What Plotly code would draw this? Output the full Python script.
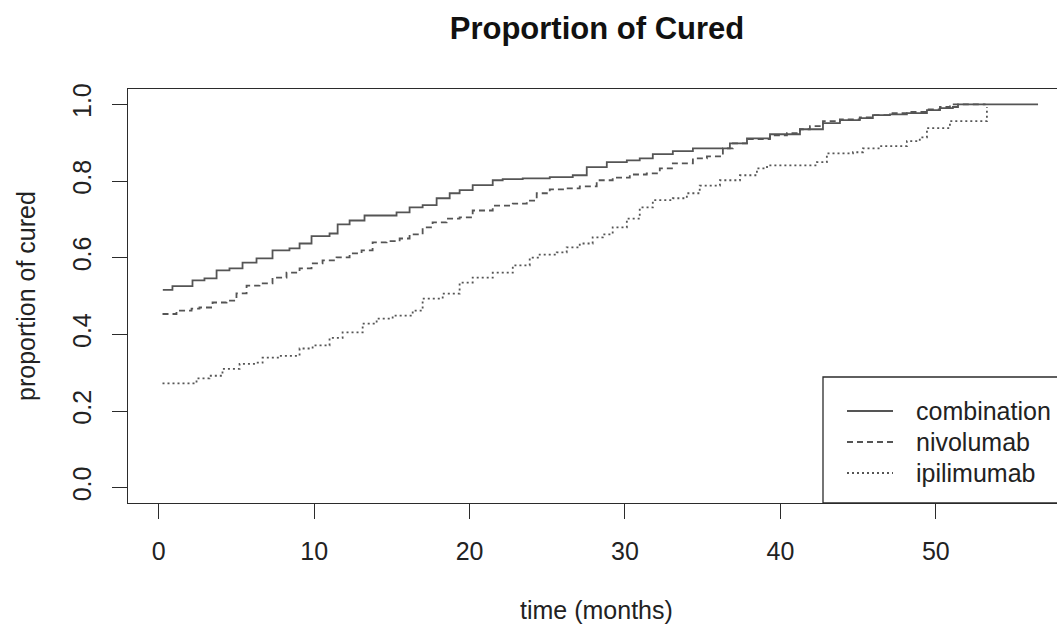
import plotly.graph_objects as go

# ---- data ----
comb_t = [0.26, 0.88, 2.17, 2.94, 3.72, 4.55, 5.39, 6.29, 7.32, 8.41, 9.06, 9.83, 10.99, 11.51,
          12.28, 13.24, 15.30, 16.14, 16.98, 17.88, 18.72, 19.36, 20.20, 21.49, 22.13, 23.42,
          25.16, 26.64, 27.54, 28.83, 30.12, 30.95, 31.79, 33.08, 34.37, 36.75, 37.85, 39.33,
          41.26, 42.74, 43.83, 45.11, 45.95, 47.05, 48.14, 49.43, 50.27, 51.10, 51.43, 56.58]
comb_v = [0.516, 0.526, 0.541, 0.546, 0.567, 0.572, 0.587, 0.598, 0.619, 0.624, 0.637, 0.656,
          0.663, 0.687, 0.697, 0.710, 0.718, 0.731, 0.737, 0.755, 0.768, 0.776, 0.789, 0.802,
          0.805, 0.807, 0.810, 0.815, 0.836, 0.849, 0.854, 0.859, 0.870, 0.878, 0.885, 0.898,
          0.911, 0.922, 0.935, 0.951, 0.959, 0.964, 0.972, 0.974, 0.977, 0.985, 0.990, 0.993,
          1.000, 1.000]

nivo_t = [0.24, 1.14, 2.11, 2.62, 3.46, 4.36, 5.00, 5.65, 6.48, 7.32, 8.22, 9.06, 9.83, 10.54,
          11.44, 12.28, 13.05, 13.76, 14.66, 15.50, 16.14, 16.98, 17.62, 18.52, 19.36, 20.20,
          21.49, 22.78, 23.68, 24.32, 25.16, 26.25, 27.09, 28.18, 29.21, 30.31, 31.40, 32.24,
          33.08, 34.37, 35.27, 36.30, 36.94, 37.85, 39.33, 40.42, 41.26, 41.90, 42.74, 43.83,
          45.11, 45.95, 47.05, 48.14, 49.43, 50.27, 50.91, 53.20]
nivo_v = [0.453, 0.462, 0.467, 0.470, 0.483, 0.488, 0.507, 0.527, 0.533, 0.548, 0.561, 0.572,
          0.585, 0.593, 0.601, 0.611, 0.619, 0.640, 0.643, 0.650, 0.661, 0.679, 0.692, 0.702,
          0.705, 0.723, 0.736, 0.741, 0.749, 0.768, 0.778, 0.781, 0.786, 0.802, 0.809, 0.817,
          0.820, 0.833, 0.846, 0.859, 0.864, 0.885, 0.898, 0.909, 0.919, 0.925, 0.935, 0.943,
          0.956, 0.961, 0.966, 0.972, 0.977, 0.980, 0.987, 0.993, 1.000, 1.000]

ipi_t = [0.24, 2.43, 3.26, 4.10, 5.20, 6.29, 6.68, 7.77, 9.06, 9.90, 10.99, 11.83, 13.12,
         14.02, 15.05, 16.34, 16.98, 18.27, 19.36, 20.20, 21.49, 22.78, 23.87, 24.51, 25.61,
         26.25, 27.09, 27.92, 28.57, 29.21, 30.12, 30.95, 31.79, 33.08, 33.98, 34.81, 36.11,
         37.40, 38.49, 39.14, 42.35, 42.99, 44.67, 45.31, 46.41, 48.14, 48.97, 49.43, 50.91,
         53.29]
ipi_v = [0.272, 0.285, 0.292, 0.310, 0.323, 0.326, 0.339, 0.344, 0.363, 0.371, 0.391, 0.405,
         0.428, 0.441, 0.449, 0.462, 0.493, 0.506, 0.535, 0.548, 0.561, 0.580, 0.600, 0.608,
         0.614, 0.627, 0.637, 0.653, 0.661, 0.679, 0.702, 0.731, 0.750, 0.755, 0.768, 0.788,
         0.802, 0.815, 0.833, 0.841, 0.849, 0.872, 0.875, 0.885, 0.891, 0.904, 0.914, 0.938,
         0.956, 0.993]

series_names = ["combination", "nivolumab", "ipilimumab"]
x_ticks = [0, 10, 20, 30, 40, 50]
y_ticks = [0.0, 0.2, 0.4, 0.6, 0.8, 1.0]
y_tick_text = ["0.0", "0.2", "0.4", "0.6", "0.8", "1.0"]

LINE_COL = "#555555"
AX_COL = "#2b2b2b"
FONT = "Liberation Sans, Arial, sans-serif"
FS = 25
dashes = ["solid", "6px,4px", "2px,3px"]

fig = go.Figure()
for t, v, name, d in zip([comb_t, nivo_t, ipi_t], [comb_v, nivo_v, ipi_v], series_names, dashes):
    fig.add_trace(go.Scatter(x=t, y=v, mode="lines", name=name, line_shape="hv",
                             line=dict(color=LINE_COL, width=1.8, dash=d), showlegend=False))

W, H = 1057, 629
L, R, T, B = 128, 0, 89, 126
pw, ph = W - L - R, H - T - B

def px(xp):
    return (xp - L) / pw

def py(yp):
    return (H - B - yp) / ph

# manual legend in the lower right (box runs off the right edge like the reference)
shapes = [dict(type="rect", xref="paper", yref="paper", x0=px(823), x1=px(1090),
               y0=py(503), y1=py(377), line=dict(color=AX_COL, width=1.3))]
annotations = []
for i, (name, d) in enumerate(zip(series_names, dashes)):
    yc = py(411 + 31 * i)
    shapes.append(dict(type="line", xref="paper", yref="paper", x0=px(847), x1=px(893),
                       y0=yc, y1=yc, line=dict(color=LINE_COL, width=1.8, dash=d)))
    annotations.append(dict(text=name, xref="paper", yref="paper", x=px(914), y=yc,
                            xanchor="left", yanchor="middle", showarrow=False,
                            font=dict(size=FS, color="#222", family=FONT)))

annotations.append(dict(text="time (months)", xref="paper", yref="paper", x=px(596), y=py(610),
                        xanchor="center", yanchor="middle", showarrow=False,
                        font=dict(size=FS, color="#222", family=FONT)))
annotations.append(dict(text="proportion of cured", xref="paper", yref="paper", x=px(26), y=0.5,
                        xanchor="center", yanchor="middle", showarrow=False, textangle=-90,
                        font=dict(size=FS, color="#222", family=FONT)))

fig.update_layout(
    width=W, height=H,
    margin=dict(l=L, r=R, t=T, b=B, pad=0),
    paper_bgcolor="white", plot_bgcolor="white",
    title=dict(text="<b>Proportion of Cured</b>", xref="container", yref="container",
               x=597 / W, y=1 - 28 / H, xanchor="center", yanchor="middle",
               font=dict(size=31, color="#111", family=FONT)),
    font=dict(family=FONT, size=FS, color="#222"),
    shapes=shapes, annotations=annotations,
    xaxis=dict(range=[-1.98, 57.8], tickvals=x_ticks, ticks="outside", ticklen=15,
               tickwidth=1.3, tickcolor=AX_COL, showline=True, linecolor=AX_COL, linewidth=1.3,
               mirror=True, showgrid=False, zeroline=False, ticklabelstandoff=11,
               tickfont=dict(size=FS, color="#222")),
    yaxis=dict(range=[-0.04, 1.04], tickvals=y_ticks, ticktext=y_tick_text, ticks="outside",
               ticklen=15, tickwidth=1.3, tickcolor=AX_COL, showline=True, linecolor=AX_COL,
               linewidth=1.3, mirror=False, showgrid=False, zeroline=False, tickangle=-90,
               ticklabelstandoff=11, tickfont=dict(size=FS, color="#222")),
)

fig.write_html("out.html")
